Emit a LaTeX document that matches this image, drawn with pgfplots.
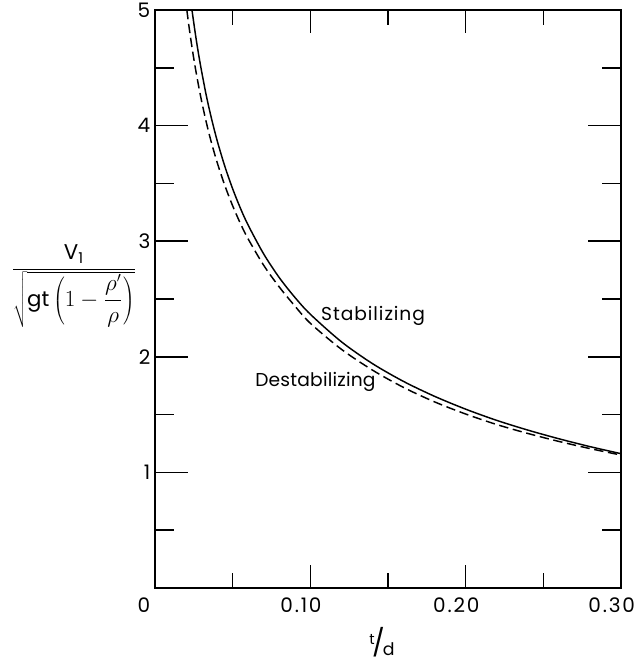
\documentclass[border=0pt]{standalone}
\usepackage{pgfplots}
\usepackage{pgfplotstable}
\pgfplotsset{compat=1.18}
\usepackage{fontspec}
\setmainfont{Poppins}[LetterSpace=5]

% critical velocity ratio against thickness ratio t/d
\pgfplotstableread{
x       y
0.0238  5.000
0.026   4.792
0.028   4.622
0.030   4.470
0.033   4.262
0.036   4.082
0.040   3.871
0.045   3.646
0.050   3.453
0.055   3.285
0.060   3.138
0.070   2.889
0.080   2.685
0.090   2.515
0.100   2.368
0.120   2.130
0.140   1.941
0.160   1.787
0.180   1.658
0.200   1.547
0.220   1.450
0.240   1.366
0.260   1.291
0.280   1.223
0.300   1.162
}\stabilizing

\pgfplotstableread{
x       y
0.0205  5.000
0.022   4.846
0.024   4.661
0.026   4.497
0.028   4.348
0.030   4.212
0.033   4.030
0.036   3.869
0.040   3.682
0.045   3.480
0.050   3.306
0.055   3.153
0.060   3.019
0.070   2.791
0.080   2.604
0.090   2.440
0.100   2.290
0.120   2.065
0.140   1.885
0.160   1.735
0.180   1.610
0.200   1.505
0.220   1.414
0.240   1.337
0.260   1.268
0.280   1.206
0.300   1.150
}\destabilizing

\pgfplotsset{
  frame/.style={
    scale only axis,
    width=349.5pt, height=433.5pt,
    xmin=0, xmax=0.30, ymin=0, ymax=5,
    axis line style={line width=1.5pt},
    tick align=inside,
    xtick pos=both, ytick pos=both,
    xticklabel pos=lower, yticklabel pos=left,
    every tick/.style={black, line width=1.1pt},
    /pgf/number format/assume math mode=true,
    tick label style={font=\fontsize{15}{17}\selectfont\addfontfeatures{LetterSpace=9}},
  },
}

\begin{document}
\begin{tikzpicture}
% horizontal scale: ticks along the top and bottom edges
\begin{axis}[
  frame,
  ytick=\empty,
  xtick={0.1,0.2,0.3}, xticklabels={0.10,0.20,0.30},
  minor xtick={0.05,0.15,0.25},
  major tick length=17pt, minor tick length=11pt,
  xticklabel style={yshift=-4pt, xshift=-7pt},
  xlabel={\raisebox{0.55em}{\fontsize{11}{11}\selectfont t}\kern-0.2em{\fontsize{20}{20}\selectfont/}\kern-0.15em\raisebox{-0.25em}{\fontsize{13}{13}\selectfont d}},
  xlabel style={at={(axis description cs:0.487,0)}, anchor=center, yshift=-40.5pt},
]
\coordinate (bl) at (rel axis cs:0,0);
\coordinate (tr) at (rel axis cs:1,1);
\end{axis}
% vertical scale and the two curves
\begin{axis}[
  frame,
  xtick=\empty,
  ytick={1,2,3,4,5}, yticklabels={1,2,3,4,5},
  minor ytick={0.5,1.5,2.5,3.5,4.5},
  major tick length=25pt, minor tick length=14.5pt,
  ylabel={\fontsize{16}{18}\selectfont$\displaystyle\frac{\mathrm{V}_{\mathrm{1}}}{\sqrt{\mathrm{gt}\left(1-{\displaystyle\frac{\rho'}{\rho}}\right)}}$},
  ylabel style={rotate=-90, at={(axis description cs:-0.03,0.522)}, anchor=east},
]
\addplot[black, line width=1.1pt, smooth] table[x=x, y=y] {\stabilizing};
\addplot[black, line width=1.1pt, smooth, dash pattern=on 7pt off 3.5pt] table[x=x, y=y] {\destabilizing};

\node[font=\fontsize{14}{16}\selectfont] at (axis cs:0.1404,2.35) {Stabilizing};
\node[font=\fontsize{14}{16}\selectfont\addfontfeatures{LetterSpace=1}] at (axis cs:0.1033,1.78) {Destabilizing};
\end{axis}
\node[font=\fontsize{15}{17}\selectfont] at ([shift={(-8.25pt,-12.75pt)}]bl) {0};

\pgfresetboundingbox
\path[use as bounding box] ([shift={(-116.25pt,-54pt)}]bl) rectangle ([shift={(11.25pt,7.5pt)}]tr);
\end{tikzpicture}
\end{document}
